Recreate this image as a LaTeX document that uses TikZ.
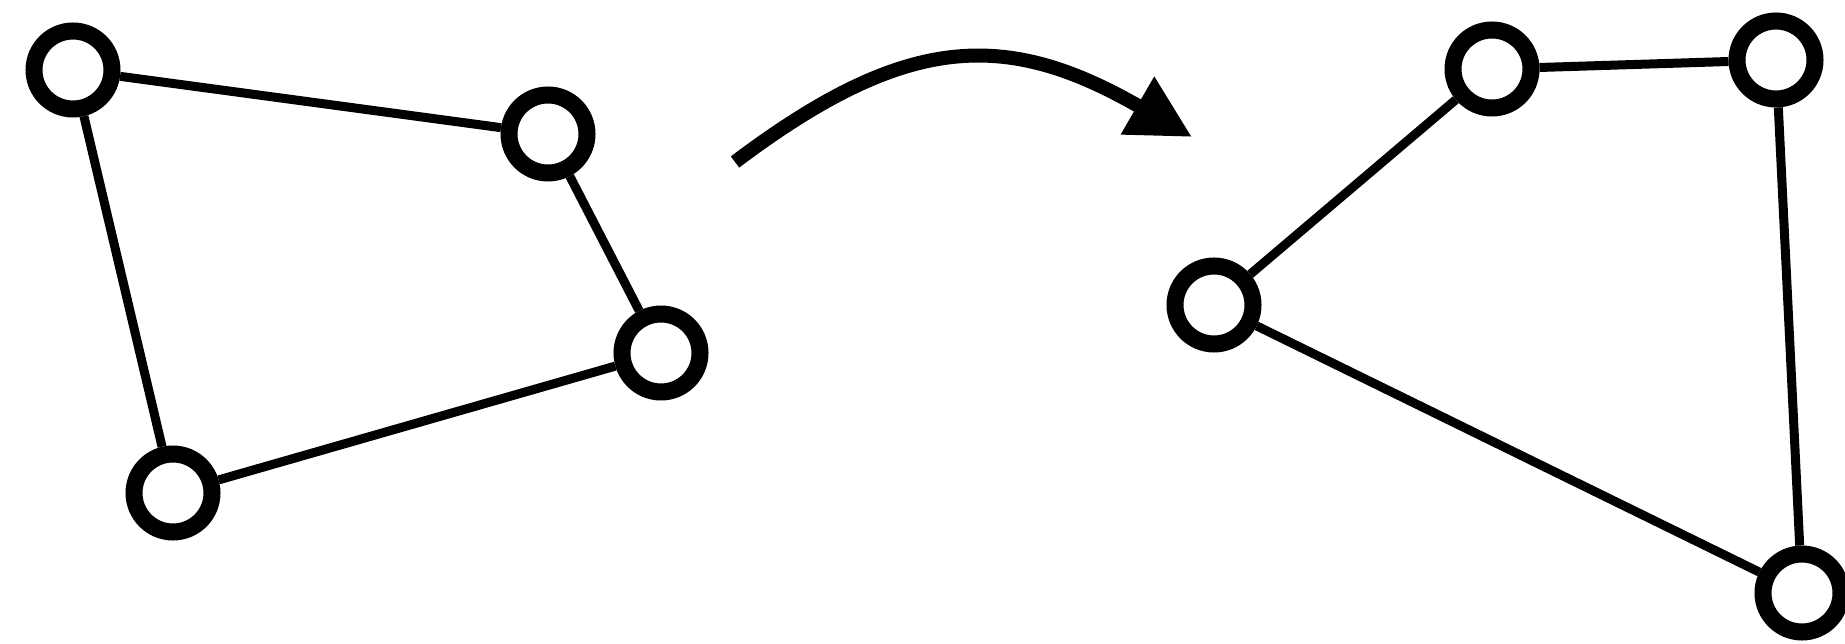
\documentclass[tikz,border=0pt]{standalone}
\usepackage{tikz}
\usetikzlibrary{arrows.meta}

\begin{document}
\begin{tikzpicture}[x=1pt, y=-1pt,
                vert/.style={circle, draw=black, fill=white, line width=17pt, minimum size=78pt, inner sep=0pt},
                link/.style={draw=black, line width=9pt},
                morph/.style={-{Triangle[length=63pt,width=63pt]}, line width=14pt}
            ]
                \useasboundingbox (0,0) rectangle (1845,644);

                % Left graph
                \node[vert] (a) at (73, 70) {};
                \node[vert] (b) at (548, 134) {};
                \node[vert] (c) at (661, 353) {};
                \node[vert] (d) at (173, 493) {};

                % Right graph
                \node[vert] (e) at (1214, 305) {};
                \node[vert] (f) at (1492, 69) {};
                \node[vert] (g) at (1776, 60) {};
                \node[vert] (h) at (1802, 593) {};

                % Links
                \path[link] (a) -- (b) (a) -- (d) (b) -- (c) (c) -- (d);
                \path[link] (e) -- (f) (f) -- (g) (g) -- (h) (h) -- (e);

                % Arrow between the two graphs
                \coordinate (from) at (735, 162);
                \coordinate (to) at (1192, 137);
                \draw[morph] (from) to[out=37, in=150, looseness=1.2] (to);
            \end{tikzpicture}
\end{document}
